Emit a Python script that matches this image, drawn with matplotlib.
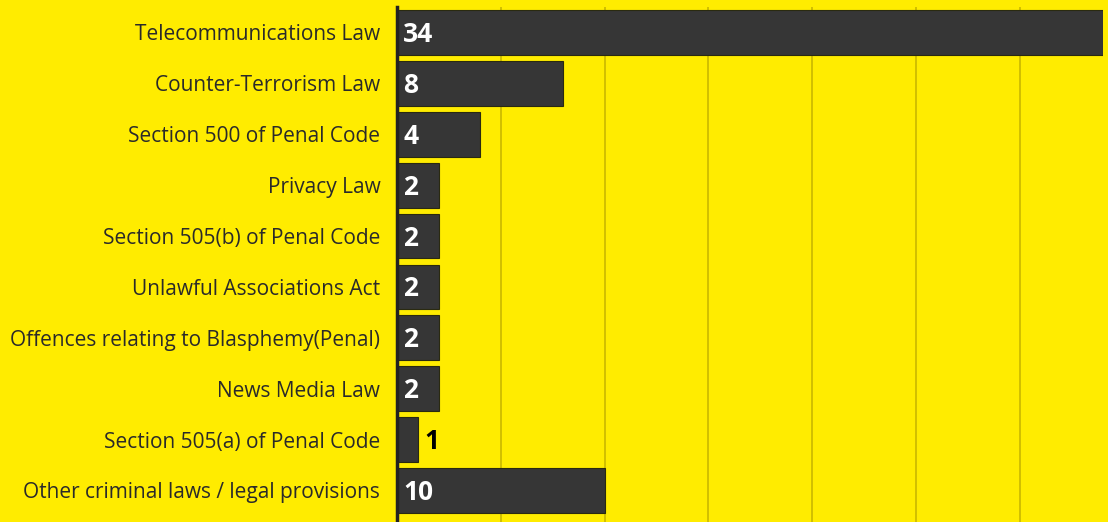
import matplotlib
matplotlib.use("Agg")
import matplotlib.pyplot as plt

categories = [
    "Telecommunications Law",
    "Counter-Terrorism Law",
    "Section 500 of Penal Code",
    "Privacy Law",
    "Section 505(b) of Penal Code",
    "Unlawful Associations Act",
    "Offences relating to Blasphemy(Penal)",
    "News Media Law",
    "Section 505(a) of Penal Code",
    "Other criminal laws / legal provisions",
]
counts = [34, 8, 4, 2, 2, 2, 2, 2, 1, 10]
grid_ticks = [5, 10, 15, 20, 25, 30]

bg = "#ffec00"
bar_color = "#363636"

plt.rcParams["font.family"] = ["Open Sans", "DejaVu Sans"]

fig = plt.figure(figsize=(11.08, 5.22), dpi=100, facecolor=bg)
ax = fig.add_axes([397 / 1108, 0, (1103 - 397) / 1108, 1 - 7 / 522])
ax.set_facecolor(bg)

y = list(range(len(categories)))
ax.barh(y, counts, height=0.88, color=bar_color, edgecolor="#2a2a10", linewidth=0.8, zorder=3)

for yi, c in zip(y, counts):
    if c >= 2:
        ax.text(0.3, yi + 0.04, str(c), color="white", fontsize=19, fontweight="bold",
                va="center", ha="left", zorder=4)
    else:
        ax.text(c + 0.3, yi + 0.04, str(c), color="black", fontsize=19, fontweight="bold",
                va="center", ha="left", zorder=4)

ax.set_xlim(0, 34)
ax.set_ylim(9.62, -0.5)
ax.set_yticks(y)
ax.set_yticklabels(categories, fontsize=15, color="#2a2a2a")
ax.set_xticks(grid_ticks)
ax.tick_params(axis="x", length=0, labelbottom=False)
ax.tick_params(axis="y", length=0, pad=12)
ax.grid(axis="x", color="#c9b800", linewidth=1.2, zorder=0)

for side in ["top", "right", "bottom"]:
    ax.spines[side].set_visible(False)
ax.spines["left"].set_color("#222222")
ax.spines["left"].set_linewidth(2.5)
ax.spines["left"].set_zorder(5)

fig.savefig("out.png", dpi=100, facecolor=bg)
